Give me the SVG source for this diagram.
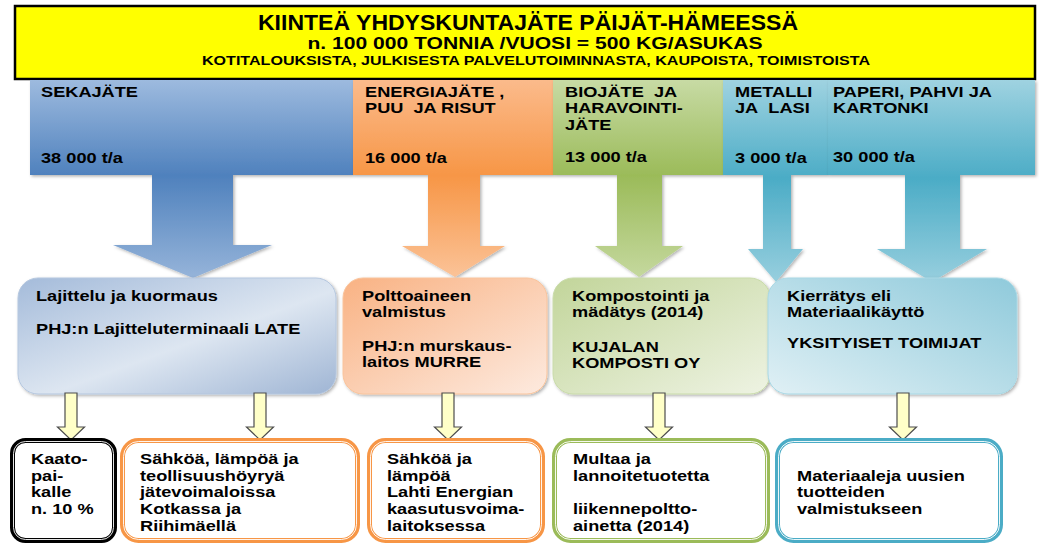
<svg xmlns="http://www.w3.org/2000/svg" xmlns:xlink="http://www.w3.org/1999/xlink" width="1039" height="545" viewBox="0 0 1039 545">
<defs>
<style>
.t{font-family:"Liberation Sans",Arial,sans-serif;font-weight:bold;font-size:14px;fill:#000}
.h{font-family:"Liberation Sans Narrow","Arial Narrow","Liberation Sans",Arial,sans-serif;font-weight:bold;fill:#000}
.col{filter:url(#sh)}
.mid{filter:url(#sh)}
.out{fill:#fff;stroke-width:5}
.inn{fill:none;stroke:#fff;stroke-width:0.9}
.ya{fill:#ffffc8;stroke:#4d4d4d;stroke-width:1.2}
</style>
<filter id="sh" x="-10%" y="-10%" width="130%" height="130%">
<feDropShadow dx="1.5" dy="1.5" stdDeviation="1.5" flood-color="#000" flood-opacity="0.3"/>
</filter>
<linearGradient id="gBlue" gradientUnits="userSpaceOnUse" x1="0" y1="79" x2="0" y2="280">
<stop offset="0" stop-color="#9ebbdf"/><stop offset="0.48" stop-color="#4f81bd"/><stop offset="1" stop-color="#97b5da"/>
</linearGradient>
<linearGradient id="gOrange" gradientUnits="userSpaceOnUse" x1="0" y1="79" x2="0" y2="280">
<stop offset="0" stop-color="#fbbb8c"/><stop offset="0.48" stop-color="#f79646"/><stop offset="1" stop-color="#fbc49a"/>
</linearGradient>
<linearGradient id="gGreen" gradientUnits="userSpaceOnUse" x1="0" y1="79" x2="0" y2="280">
<stop offset="0" stop-color="#c8dba5"/><stop offset="0.48" stop-color="#9bbb59"/><stop offset="1" stop-color="#c6d9a0"/>
</linearGradient>
<linearGradient id="gTeal" gradientUnits="userSpaceOnUse" x1="0" y1="79" x2="0" y2="285">
<stop offset="0" stop-color="#a0d3e1"/><stop offset="0.48" stop-color="#4bacc6"/><stop offset="1" stop-color="#9ad0df"/>
</linearGradient>
<linearGradient id="bBlue" x1="0" y1="0" x2="1" y2="1">
<stop offset="0" stop-color="#a4bbda"/><stop offset="0.55" stop-color="#dde6f1"/><stop offset="1" stop-color="#9fb5d4"/>
</linearGradient>
<linearGradient id="bOrange" x1="0" y1="0" x2="1" y2="1">
<stop offset="0" stop-color="#f9b283"/><stop offset="1" stop-color="#fdeadf"/>
</linearGradient>
<linearGradient id="bGreen" x1="0" y1="0" x2="1" y2="1">
<stop offset="0" stop-color="#c2d59a"/><stop offset="1" stop-color="#eef3e3"/>
</linearGradient>
<linearGradient id="bTeal" x1="0" y1="1" x2="1" y2="0">
<stop offset="0" stop-color="#e0f0f5"/><stop offset="1" stop-color="#8fcadb"/>
</linearGradient>
<path id="ya" class="ya" d="M-6,393 H6 V427 H13.5 L0,440 L-13.5,427 H-6 Z"/>
</defs>

<g id="header">
<rect x="15" y="6" width="1020" height="73" fill="#ffff00" stroke="#000" stroke-width="2.5"/>
<text class="h" x="528" y="30" font-size="22" text-anchor="middle" textLength="540" lengthAdjust="spacingAndGlyphs">KIINTEÄ YHDYSKUNTAJÄTE PÄIJÄT-HÄMEESSÄ</text>
<text class="h" x="535" y="49" font-size="17" text-anchor="middle" textLength="455" lengthAdjust="spacingAndGlyphs">n. 100 000 TONNIA /VUOSI = 500 KG/ASUKAS</text>
<text class="h" x="536" y="65" font-size="13" text-anchor="middle" textLength="668" lengthAdjust="spacingAndGlyphs">KOTITALOUKSISTA, JULKISESTA PALVELUTOIMINNASTA, KAUPOISTA, TOIMISTOISTA</text>
</g>

<g id="col-sekajate">
<path class="col" fill="url(#gBlue)" d="M30,80 H353 V175 H233 V245 H272 L193,278 L113,245 H152 V175 H30 Z"/>
<text class="t" transform="translate(41 97) scale(1.3 1)">SEKAJÄTE</text>
<text class="t" transform="translate(41 163) scale(1.3 1)">38 000 t/a</text>
</g>
<g id="col-energia">
<path class="col" fill="url(#gOrange)" d="M353,80 H553 V175 H480 V246 H505 L455,277 L402,246 H428 V175 H353 Z"/>
<text class="t" transform="translate(365 97) scale(1.3 1)"><tspan x="0" y="0">ENERGIAJÄTE ,</tspan><tspan x="0" y="16">PUU&#160; JA RISUT</tspan></text>
<text class="t" transform="translate(365 163) scale(1.3 1)">16 000 t/a</text>
</g>
<g id="col-bio">
<path class="col" fill="url(#gGreen)" d="M553,80 H723 V175 H662 V246 H683 L639,277 L595,246 H617 V175 H553 Z"/>
<text class="t" transform="translate(565 97) scale(1.3 1)"><tspan x="0" y="0">BIOJÄTE&#160; JA</tspan><tspan x="0" y="16">HARAVOINTI-</tspan><tspan x="0" y="33">JÄTE</tspan></text>
<text class="t" transform="translate(565 162) scale(1.3 1)">13 000 t/a</text>
</g>
<g id="col-metalli">
<path class="col" fill="url(#gTeal)" d="M723,80 H828 V175 H791 V249 H803 L776,282 L748,249 H763 V175 H723 Z"/>
<text class="t" transform="translate(735 97) scale(1.3 1)"><tspan x="0" y="0">METALLI</tspan><tspan x="0" y="16">JA&#160; LASI</tspan></text>
<text class="t" transform="translate(735 163) scale(1.3 1)">3 000 t/a</text>
</g>
<g id="col-paperi">
<path class="col" fill="url(#gTeal)" d="M828,80 H1035 V175 H960 V249 H987 L932,282 L877,249 H905 V175 H828 Z"/>
<text class="t" transform="translate(833 97) scale(1.3 1)"><tspan x="0" y="0">PAPERI, PAHVI JA</tspan><tspan x="0" y="16">KARTONKI</tspan></text>
<text class="t" transform="translate(833 162) scale(1.3 1)">30 000 t/a</text>
</g>

<g id="box-lajittelu">
<rect class="mid" x="18" y="278" width="318" height="116" rx="20" fill="url(#bBlue)" stroke="#b5c7df" stroke-width="1"/>
<text class="t" transform="translate(36 301) scale(1.3 1)"><tspan x="0" y="0">Lajittelu ja kuormaus</tspan><tspan x="0" y="33">PHJ:n Lajitteluterminaali LATE</tspan></text>
</g>
<g id="box-polttoaine">
<rect class="mid" x="343" y="278" width="204" height="116" rx="20" fill="url(#bOrange)" stroke="#f9c49c" stroke-width="1"/>
<text class="t" transform="translate(362 301) scale(1.3 1)"><tspan x="0" y="0">Polttoaineen</tspan><tspan x="0" y="16">valmistus</tspan><tspan x="0" y="50">PHJ:n murskaus-</tspan><tspan x="0" y="66">laitos MURRE</tspan></text>
</g>
<g id="box-kompostointi">
<rect class="mid" x="553" y="278" width="217" height="116" rx="20" fill="url(#bGreen)" stroke="#c9dbaa" stroke-width="1"/>
<text class="t" transform="translate(572 301) scale(1.3 1)"><tspan x="0" y="0">Kompostointi ja</tspan><tspan x="0" y="16">mädätys (2014)</tspan><tspan x="0" y="51">KUJALAN</tspan><tspan x="0" y="67">KOMPOSTI OY</tspan></text>
</g>
<g id="box-kierratys">
<rect class="mid" x="768" y="278" width="249" height="116" rx="20" fill="url(#bTeal)" stroke="#a9d8e5" stroke-width="1"/>
<text class="t" transform="translate(787 301) scale(1.3 1)"><tspan x="0" y="0">Kierrätys eli</tspan><tspan x="0" y="16">Materiaalikäyttö</tspan><tspan x="0" y="47">YKSITYISET TOIMIJAT</tspan></text>
</g>

<g id="connectors">
<use xlink:href="#ya" href="#ya" transform="translate(71 0)"/>
<use xlink:href="#ya" href="#ya" transform="translate(260 0)"/>
<use xlink:href="#ya" href="#ya" transform="translate(448 0)"/>
<use xlink:href="#ya" href="#ya" transform="translate(659 0)"/>
<use xlink:href="#ya" href="#ya" transform="translate(903 0)"/>
</g>

<g id="out-kaatopaikka">
<rect class="out" x="12.5" y="440.5" width="102" height="100" rx="13" stroke="#000"/>
<rect class="inn" x="13.5" y="441.5" width="100" height="98" rx="12"/>
<text class="t" transform="translate(31 464) scale(1.3 1)"><tspan x="0" y="0">Kaato-</tspan><tspan x="0" y="17">pai-</tspan><tspan x="0" y="33">kalle</tspan><tspan x="0" y="50">n. 10 %</tspan></text>
</g>
<g id="out-jatevoimalat">
<rect class="out" x="122.5" y="440.5" width="235" height="100" rx="16" stroke="#f79646"/>
<rect class="inn" x="123.5" y="441.5" width="233" height="98" rx="15"/>
<text class="t" transform="translate(140 464) scale(1.3 1)"><tspan x="0" y="0">Sähköä, lämpöä ja</tspan><tspan x="0" y="17">teollisuushöyryä</tspan><tspan x="0" y="33">jätevoimaloissa</tspan><tspan x="0" y="50">Kotkassa ja</tspan><tspan x="0" y="67">Riihimäellä</tspan></text>
</g>
<g id="out-lahti">
<rect class="out" x="369.5" y="440.5" width="173" height="100" rx="16" stroke="#f79646"/>
<rect class="inn" x="370.5" y="441.5" width="171" height="98" rx="15"/>
<text class="t" transform="translate(387 464) scale(1.3 1)"><tspan x="0" y="0">Sähköä ja</tspan><tspan x="0" y="17">lämpöä</tspan><tspan x="0" y="33">Lahti Energian</tspan><tspan x="0" y="50">kaasutusvoima-</tspan><tspan x="0" y="67">laitoksessa</tspan></text>
</g>
<g id="out-multa">
<rect class="out" x="554.5" y="440.5" width="213" height="100" rx="16" stroke="#9bbb59"/>
<rect class="inn" x="555.5" y="441.5" width="211" height="98" rx="15"/>
<text class="t" transform="translate(573 464) scale(1.3 1)"><tspan x="0" y="0">Multaa ja</tspan><tspan x="0" y="17">lannoitetuotetta</tspan><tspan x="0" y="50">liikennepoltto-</tspan><tspan x="0" y="67">ainetta (2014)</tspan></text>
</g>
<g id="out-materiaalit">
<rect class="out" x="777.5" y="440.5" width="223" height="100" rx="16" stroke="#4bacc6"/>
<rect class="inn" x="778.5" y="441.5" width="221" height="98" rx="15"/>
<text class="t" transform="translate(797 481) scale(1.3 1)"><tspan x="0" y="0">Materiaaleja uusien</tspan><tspan x="0" y="16">tuotteiden</tspan><tspan x="0" y="33">valmistukseen</tspan></text>
</g>
</svg>
